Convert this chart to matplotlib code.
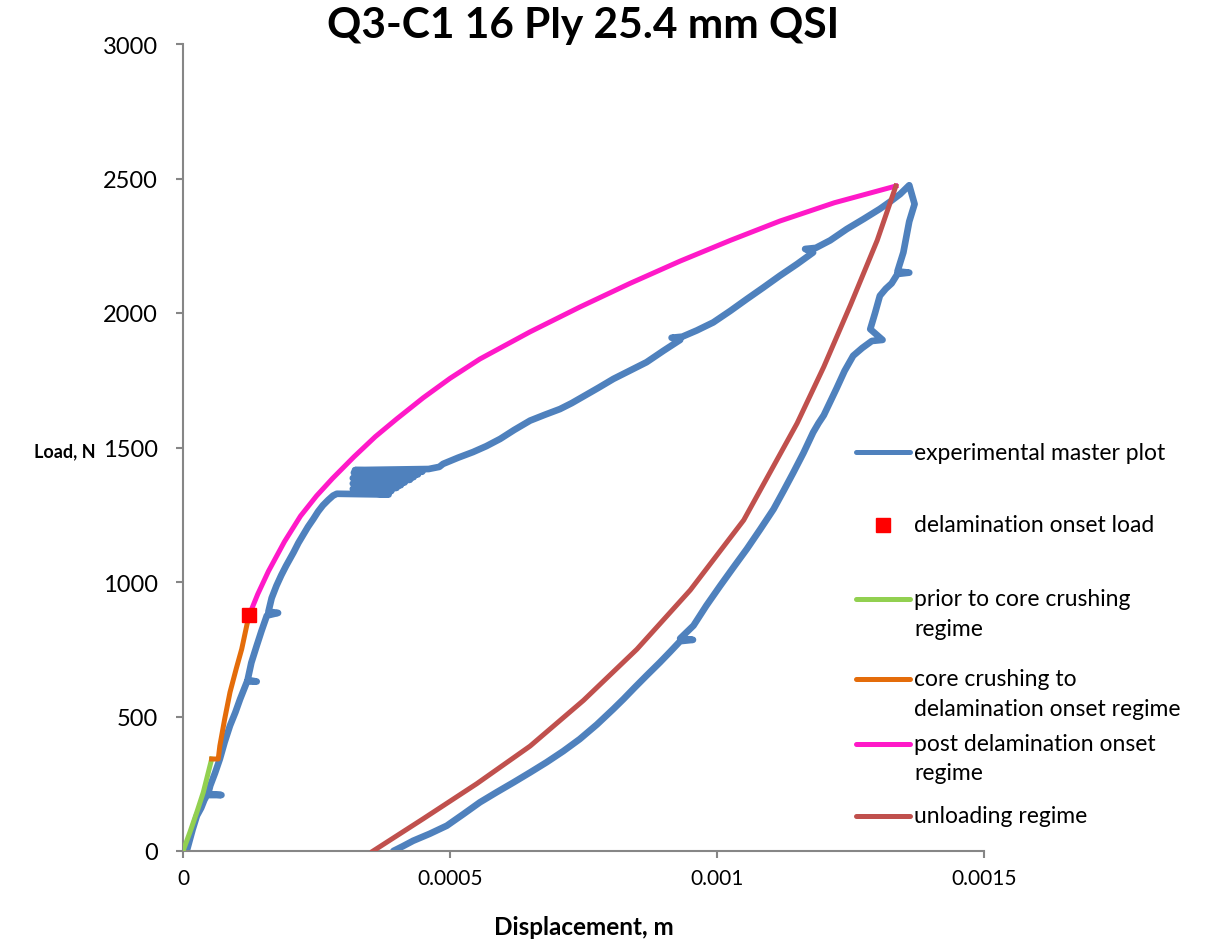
import matplotlib
matplotlib.use("Agg")
import matplotlib.pyplot as plt
from matplotlib.lines import Line2D

plt.rcParams['font.family'] = ['Lato', 'DejaVu Sans']

exp_disp = [0.000007, 0.000018, 0.000026, 0.000034, 0.00004, 0.000045, 0.000072, 0.000047, 0.000051,
            0.00006, 0.000069, 0.000078, 0.000088, 0.000098, 0.000107, 0.000116, 0.00012, 0.000138,
            0.000121, 0.000128, 0.000138, 0.000147, 0.000157, 0.000178, 0.00016, 0.000166, 0.000175,
            0.000184, 0.000193, 0.0002, 0.000207, 0.000216, 0.000225, 0.000234, 0.000244, 0.000253,
            0.000262, 0.000272, 0.000281, 0.000288,
            0.000385, 0.00032, 0.00039, 0.000318, 0.0004, 0.000322, 0.000408, 0.000318, 0.000415,
            0.000322, 0.000425, 0.000318, 0.000432, 0.000325, 0.00044, 0.00032, 0.000448, 0.000322,
            0.00046, 0.00048,
            0.000487, 0.000515, 0.000543, 0.000568, 0.000594, 0.00062, 0.00065,
            0.000678, 0.000706, 0.000728, 0.00075, 0.000778, 0.000806, 0.000836, 0.000868, 0.0009,
            0.000931, 0.000915, 0.000935, 0.000962, 0.000993, 0.001025, 0.001056, 0.001087, 0.001118,
            0.00115, 0.00118, 0.001165, 0.001185, 0.001212, 0.001243, 0.001275, 0.001305, 0.001325,
            0.001343, 0.00136, 0.00137,
            0.00136, 0.001349, 0.001338, 0.00136, 0.001338, 0.001327, 0.001316, 0.001305, 0.001296,
            0.001287, 0.00131, 0.00129, 0.001272, 0.001255, 0.001239, 0.001224, 0.001212, 0.0012,
            0.00119, 0.00118, 0.001162, 0.001143, 0.001125, 0.001106, 0.001081, 0.001056, 0.001031,
            0.001006, 0.00098, 0.000956, 0.000931, 0.000955, 0.000931, 0.000912, 0.000893, 0.000868,
            0.000846, 0.000825, 0.000806, 0.000775, 0.000743, 0.000712, 0.000681, 0.00065, 0.000619,
            0.000587, 0.000556, 0.000525, 0.000494, 0.000462, 0.000431, 0.000412, 0.000394]
exp_load = [0, 80, 131, 160, 190, 208, 208, 212, 243,
            290, 342, 405, 466, 515, 565, 610, 630, 630,
            636, 700, 763, 818, 875, 885, 890, 940, 986,
            1025, 1060, 1085, 1110, 1145, 1175, 1205, 1234, 1262,
            1285, 1305, 1321, 1328,
            1325, 1335, 1338, 1346, 1350, 1356, 1360, 1366, 1370,
            1376, 1380, 1386, 1390, 1396, 1400, 1406, 1410, 1416,
            1420, 1428,
            1439, 1462, 1483, 1505, 1532, 1565, 1600,
            1622, 1643, 1665, 1690, 1722, 1755, 1785, 1817, 1860,
            1900, 1908, 1912, 1935, 1965, 2008, 2052, 2095, 2139,
            2182, 2225, 2238, 2242, 2270, 2312, 2350, 2387, 2415,
            2442, 2475, 2405,
            2340, 2225, 2155, 2150, 2145, 2110, 2090, 2064, 2000,
            1940, 1900, 1896, 1870, 1841, 1785, 1720, 1670, 1620,
            1590, 1556, 1480, 1407, 1340, 1271, 1196, 1123, 1055,
            986, 912, 838, 790, 785, 780, 740, 701, 652,
            608, 565, 528, 470, 416, 371, 330, 292, 255,
            218, 181, 137, 94, 64, 38, 18, 0]

onset_disp = [0.000123]
onset_load = [877]

prior_disp = [0, 0.000013, 0.0000257, 0.000038, 0.0000537]
prior_load = [0, 70, 143, 218, 342]

core_disp = [0.0000537, 0.000066, 0.000069, 0.000078, 0.000088, 0.0001, 0.00011, 0.00012, 0.000124]
core_load = [342, 342, 391, 490, 590, 680, 751, 844, 877]

post_disp = [0.000124, 0.00014, 0.00016, 0.00019, 0.00022, 0.00025, 0.00028, 0.00032, 0.00036,
             0.0004, 0.00045, 0.0005, 0.000556, 0.00065, 0.000743, 0.000837, 0.000931, 0.001025,
             0.001118, 0.00122, 0.001335]
post_load = [877, 955, 1040, 1150, 1245, 1320, 1385, 1465, 1540,
             1606, 1685, 1757, 1829, 1930, 2022, 2110, 2193, 2270,
             2342, 2410, 2472]

unload_disp = [0.000356, 0.00045, 0.00055, 0.00065, 0.00075, 0.00085, 0.00095, 0.00105,
               0.00115, 0.0012, 0.00125, 0.0013, 0.001335]
unload_load = [0, 120, 250, 390, 560, 750, 970, 1230, 1590, 1800, 2030, 2270, 2472]

x_ticks = [0, 0.0005, 0.001, 0.0015]
x_labels = ["0", "0.0005", "0.001", "0.0015"]
y_ticks = [0, 500, 1000, 1500, 2000, 2500, 3000]

c_exp = "#4F81BD"
c_onset = "#FF0000"
c_prior = "#92D050"
c_core = "#E46C0A"
c_post = "#FF19C8"
c_unload = "#C0504D"

W, H = 1215, 945
fig = plt.figure(figsize=(W / 100, H / 100), dpi=100)
ax = fig.add_axes([183 / W, 93 / H, 801 / W, 807 / H])

ax.plot(exp_disp, exp_load, color=c_exp, lw=4.8, solid_capstyle="round", solid_joinstyle="round", zorder=2)
ax.plot(prior_disp, prior_load, color=c_prior, lw=3.6, zorder=3)
ax.plot(core_disp, core_load, color=c_core, lw=3.6, zorder=3)
ax.plot(post_disp, post_load, color=c_post, lw=3.6, zorder=3)
ax.plot(unload_disp, unload_load, color=c_unload, lw=3.6, zorder=3)
ax.plot(onset_disp, onset_load, "s", color=c_onset, ms=10, zorder=5)

ax.set_xlim(0, 0.0015)
ax.set_ylim(0, 3000)
ax.set_xticks(x_ticks)
ax.set_xticklabels(x_labels)
ax.set_yticks(y_ticks)

for s in ["top", "right"]:
    ax.spines[s].set_visible(False)
for s in ["left", "bottom"]:
    ax.spines[s].set_color("#868686")
    ax.spines[s].set_linewidth(1.5)
ax.tick_params(axis="both", colors="#868686", length=5, width=1.5, labelcolor="black")
ax.tick_params(axis="y", pad=13, labelsize=17)
ax.tick_params(axis="x", pad=7, labelsize=15)

ax.set_title("Q3-C1 16 Ply 25.4 mm QSI", fontsize=30.5, fontweight="bold", pad=2)
ax.set_xlabel("Displacement, m", fontsize=17.5, fontweight="bold")
ax.set_ylabel("Load, N", fontsize=13, fontweight="bold", rotation=0, ha="center", va="center")
ax.xaxis.set_label_coords(0.5, -0.094)
ax.xaxis.label.set_va("center")
ax.yaxis.set_label_coords(-0.147, 0.496)

# legend drawn by hand so that multi-line entries put the key on the first line
legend_rows = [
    ("line", c_exp, ["experimental master plot"], 453),
    ("square", c_onset, ["delamination onset load"], 526),
    ("line", c_prior, ["prior to core crushing", "regime"], 600),
    ("line", c_core, ["core crushing to", "delamination onset regime"], 680),
    ("line", c_post, ["post delamination onset", "regime"], 745),
    ("line", c_unload, ["unloading regime"], 817),
]
for kind, col, lines, ypx in legend_rows:
    yf = 1 - ypx / H
    if kind == "line":
        fig.add_artist(Line2D([856 / W, 910 / W], [yf, yf], color=col, lw=3.6,
                              solid_capstyle="round", transform=fig.transFigure))
    else:
        fig.add_artist(Line2D([883 / W], [yf], marker="s", color=col, ms=10,
                              transform=fig.transFigure))
    for i, t in enumerate(lines):
        fig.text(914 / W, 1 - (ypx + i * 29) / H, t, fontsize=16.5, va="center", ha="left")

fig.savefig("out.png", dpi=100)
